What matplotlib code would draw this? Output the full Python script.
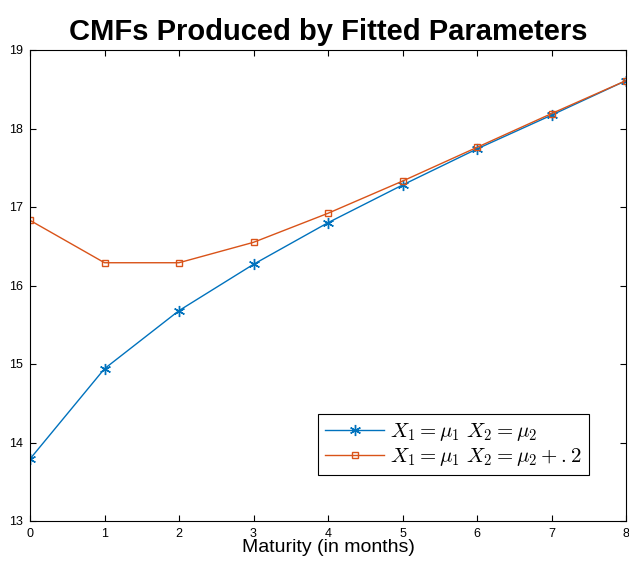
import numpy as np
import matplotlib
matplotlib.use("Agg")
import matplotlib.pyplot as plt

plt.rcParams["font.family"] = ["Liberation Sans", "DejaVu Sans"]
plt.rcParams["mathtext.fontset"] = "cm"

# values
maturity = [0, 1, 2, 3, 4, 5, 6, 7, 8]
cmf_base = [13.79, 14.94, 15.68, 16.27, 16.80, 17.28, 17.74, 18.17, 18.61]
cmf_shift = [16.83, 16.29, 16.29, 16.55, 16.92, 17.33, 17.76, 18.19, 18.61]

fig = plt.figure(figsize=(6.29, 5.65), dpi=100)
ax = fig.add_axes([30/629, 44/565, 596/629, 471/565])

ax.plot(maturity, cmf_base, color="#0072BD", marker=(6, 2, 0), markersize=8, lw=1,
        label=r"$X_1 = \mu_1\ X_2 = \mu_2$")
ax.plot(maturity, cmf_shift, color="#D95319", marker="s", markersize=5,
        markerfacecolor="none", lw=1, label=r"$X_1 = \mu_1\ X_2 = \mu_2 + .2$")

ax.set_xlim(0, 8)
ax.set_ylim(13, 19)
ax.set_xticks(range(0, 9))
ax.set_yticks(range(13, 20))
ax.tick_params(direction="in", top=True, right=True, labelsize=9, length=4, pad=5)
ax.set_xlabel("Maturity (in months)", fontsize=14, labelpad=-1)
ax.set_title("CMFs Produced by Fitted Parameters", fontsize=21, fontweight="bold", pad=7)

leg = ax.legend(loc="lower right", bbox_to_anchor=(0.955, 0.075), fontsize=15,
                fancybox=False, edgecolor="black", framealpha=1,
                borderpad=0.35, handlelength=2.8, labelspacing=0.15, handletextpad=0.3)
leg.get_frame().set_linewidth(0.8)

fig.savefig("out.png", dpi=100)
